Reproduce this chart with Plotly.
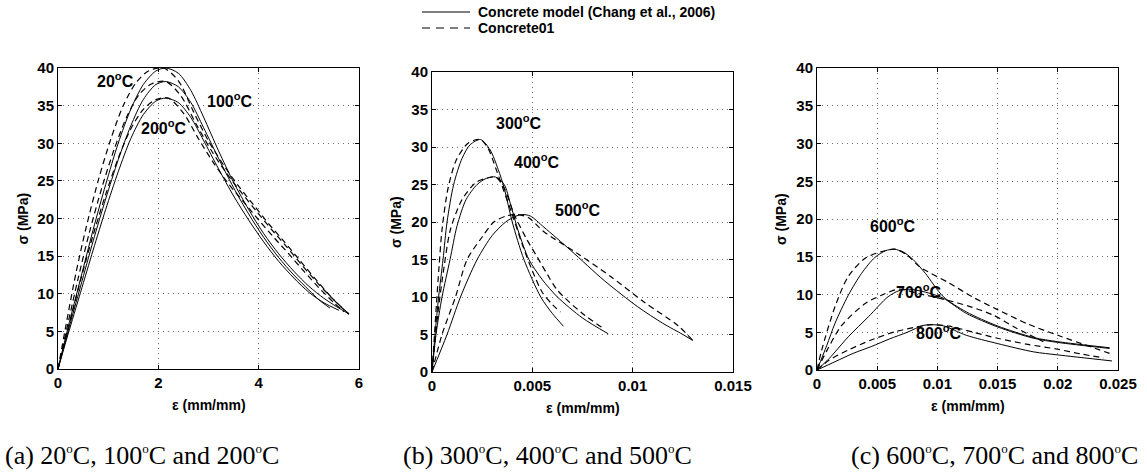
import plotly.graph_objects as go

W, H = 1147, 472

# ---------------- Panel (a): 20, 100, 200 C ----------------
a_s20_x = [0, 0.2, 0.45, 0.7, 0.95, 1.2, 1.45, 1.7, 1.95, 2.15, 2.4, 2.65, 2.9, 3.2, 3.5, 3.8, 4.1, 4.4, 4.7, 5.0, 5.3, 5.55, 5.8]
a_s20_y = [0, 5.5, 12, 18.5, 24.5, 30, 34.5, 37.8, 39.6, 40, 39.3, 37, 33.5, 29, 24.8, 21.2, 18, 15.3, 13, 11, 9.4, 8.3, 7.3]
a_s100_x = [0, 0.2, 0.45, 0.7, 0.95, 1.2, 1.45, 1.7, 1.95, 2.15, 2.4, 2.65, 2.9, 3.2, 3.5, 3.8, 4.1, 4.4, 4.7, 5.0, 5.2, 5.42]
a_s100_y = [0, 5, 11, 17, 22.6, 27.8, 32.3, 35.8, 37.8, 38.2, 37.5, 35.4, 32.1, 28, 24.1, 20.6, 17.5, 14.8, 12.5, 10.5, 9.2, 8.1]
a_s200_x = [0, 0.2, 0.45, 0.7, 0.95, 1.2, 1.45, 1.7, 1.95, 2.15, 2.4, 2.65, 2.9, 3.2, 3.5, 3.8, 4.1, 4.4, 4.7, 5.0, 5.3, 5.6]
a_s200_y = [0, 4.6, 10.2, 15.8, 21.2, 26.2, 30.6, 33.8, 35.6, 36, 35.4, 33.4, 30.4, 26.6, 23, 19.8, 16.9, 14.3, 12.1, 10.2, 8.8, 7.8]
a_d20_x = [0, 0.15, 0.35, 0.55, 0.8, 1.05, 1.3, 1.55, 1.8, 2.1, 2.4, 2.7, 3.0, 3.3, 3.6, 3.9, 4.2, 4.5, 4.8, 5.1, 5.4, 5.6, 5.8]
a_d20_y = [0, 5.5, 12.5, 18.5, 25, 30.5, 35, 38, 39.6, 40, 38.3, 34.2, 30.3, 27.1, 24.3, 21.8, 19.3, 17, 14.6, 12.2, 9.9, 8.5, 7.3]
a_d100_x = [0, 0.18, 0.4, 0.62, 0.87, 1.12, 1.37, 1.62, 1.87, 2.15, 2.45, 2.75, 3.05, 3.35, 3.65, 3.95, 4.25, 4.55, 4.85, 5.15, 5.45, 5.8]
a_d100_y = [0, 5.5, 12, 18, 24, 29.2, 33.5, 36.5, 37.9, 38.2, 36.3, 32.6, 29.1, 26.1, 23.5, 21, 18.6, 16.3, 13.9, 11.6, 9.5, 7.3]
a_d200_x = [0, 0.2, 0.45, 0.7, 0.95, 1.2, 1.45, 1.7, 1.95, 2.2, 2.5, 2.8, 3.1, 3.4, 3.7, 4.0, 4.3, 4.6, 4.9, 5.2, 5.5, 5.7]
a_d200_y = [0, 5.2, 11.8, 17.8, 23.2, 28, 31.9, 34.5, 35.8, 36, 34, 30.6, 27.4, 24.6, 22.2, 19.8, 17.5, 15.3, 13, 10.8, 8.8, 7.6]

# ---------------- Panel (b): 300, 400, 500 C ----------------
b_s300_x = [0, 0.00015, 0.00033, 0.00055, 0.00075, 0.00108, 0.0015, 0.0019, 0.00242, 0.0029, 0.0033, 0.0036, 0.004, 0.00458, 0.00542, 0.006, 0.00655]
b_s300_y = [0, 5, 10, 15, 20, 25, 28.5, 30.3, 31, 29.6, 27, 24.5, 20, 15, 10, 7.8, 6.1]
b_d300_x = [0, 0.0001, 0.00022, 0.00035, 0.0005, 0.0008, 0.0012, 0.00175, 0.0021, 0.00242, 0.0028, 0.0032, 0.0036, 0.004, 0.0045, 0.005, 0.0055, 0.006, 0.0064]
b_d300_y = [0, 4, 9, 14, 19, 24.5, 28.2, 30.4, 30.9, 31, 29.8, 27, 24, 21, 17, 13.5, 10.6, 9, 8]
b_s400_x = [0, 0.0002, 0.0005, 0.0009, 0.00125, 0.0017, 0.00225, 0.0027, 0.00317, 0.0036, 0.0039, 0.0043, 0.00483, 0.0055, 0.00625, 0.0075, 0.00878]
b_s400_y = [0, 5, 10, 15, 19.5, 23, 25, 25.8, 26, 25, 22.5, 18.8, 15, 12.3, 10, 7.2, 5.1]
b_d400_x = [0, 0.00015, 0.0003, 0.0006, 0.00092, 0.0015, 0.0022, 0.0028, 0.00317, 0.0036, 0.0041, 0.0047, 0.00525, 0.00575, 0.00625, 0.0075, 0.0085]
b_d400_y = [0, 4, 8, 14, 19, 23, 25.3, 25.9, 26, 24.5, 21, 17.8, 15.3, 13, 10.9, 7.8, 5.9]
b_s500_x = [0, 0.00075, 0.00142, 0.00225, 0.003, 0.00367, 0.0042, 0.0045, 0.0049, 0.00558, 0.00692, 0.00858, 0.01025, 0.0115, 0.0125, 0.013]
b_s500_y = [0, 5, 10, 15, 18.2, 20, 20.8, 21, 20.8, 19.3, 16.2, 12.2, 8.7, 6.5, 5.0, 4.2]
b_d500_x = [0, 0.0005, 0.00117, 0.00175, 0.0025, 0.00308, 0.0037, 0.00425, 0.0048, 0.00558, 0.00725, 0.00892, 0.01058, 0.01225, 0.013]
b_d500_y = [0, 5, 10, 15, 18, 20, 20.8, 21, 20.6, 18.7, 15.8, 12.7, 9.3, 6.2, 4.2]

# ---------------- Panel (c): 600, 700, 800 C ----------------
c_s600_x = [0, 0.0008, 0.0015, 0.0026, 0.0037, 0.0048, 0.0057, 0.0064, 0.0072, 0.008, 0.009, 0.0105, 0.0124, 0.015, 0.018, 0.02, 0.0243]
c_s600_y = [0, 3.2, 6.2, 9.9, 12.8, 14.9, 15.8, 16, 15.6, 14.6, 12.8, 9.7, 7.7, 5.83, 4.3, 3.75, 2.95]
c_s700_x = [0, 0.001, 0.0026, 0.0043, 0.0059, 0.0068, 0.0076, 0.0085, 0.0095, 0.0105, 0.0124, 0.015, 0.018, 0.02, 0.0243]
c_s700_y = [0, 1.5, 4.4, 7.1, 9.7, 10.5, 10.7, 10.5, 10.1, 9.5, 7.5, 5.7, 4.2, 3.65, 2.85]
c_s800_x = [0, 0.0015, 0.003, 0.0045, 0.006, 0.0075, 0.0088, 0.0095, 0.0105, 0.0124, 0.015, 0.018, 0.02, 0.0245]
c_s800_y = [0, 1.1, 2.2, 3.1, 4.1, 5.0, 5.9, 6.0, 5.85, 4.6, 3.5, 2.4, 2.0, 1.2]
c_d600_x = [0, 0.0004, 0.0015, 0.0026, 0.004, 0.0054, 0.0065, 0.0075, 0.0085, 0.011, 0.013, 0.015, 0.0175, 0.02, 0.0243]
c_d600_y = [0, 2.7, 8.4, 12.4, 14.8, 15.7, 16, 15.2, 13.7, 11.5, 9.6, 8.0, 6.1, 4.6, 2.2]
c_d700_x = [0, 0.0008, 0.002, 0.004, 0.0055, 0.0068, 0.0085, 0.0107, 0.0127, 0.0146, 0.0165, 0.0188]
c_d700_y = [0, 2.5, 5.8, 8.8, 10.0, 10.7, 10.1, 9.3, 8.4, 7.3, 5.6, 3.75]
c_d800_x = [0, 0.001, 0.0026, 0.0045, 0.0065, 0.0081, 0.0095, 0.011, 0.013, 0.015, 0.0175, 0.02, 0.022, 0.0238]
c_d800_y = [0, 1.3, 2.65, 3.97, 5.07, 5.65, 6.0, 5.8, 5.0, 4.2, 3.4, 2.75, 2.1, 1.6]

# labels
temp_labels_a = ["20", "100", "200"]
temp_pos_a = [(1.14, 38.4), (3.42, 35.7), (2.12, 32.2)]
temp_labels_b = ["300", "400", "500"]
temp_pos_b = [(0.00434, 33.4), (0.00523, 28.2), (0.0073, 21.8)]
temp_labels_c = ["600", "700", "800"]
temp_pos_c = [(0.00635, 19.2), (0.00851, 10.4), (0.01017, 5.1)]

SUPO = "<sup><span style='font-size:13px'>o</span></sup>"
caption_temps = [["20", "100", "200"], ["300", "400", "500"], ["600", "700", "800"]]
caption_tags = ["(a)", "(b)", "(c)"]
legend_names = ["Concrete model (Chang et al., 2006)", "Concrete01"]

x_ranges = [[0, 6], [0, 0.015], [0, 0.025]]
x_tickvals = [[0, 2, 4, 6], [0, 0.005, 0.01, 0.015], [0, 0.005, 0.01, 0.015, 0.02, 0.025]]
x_ticktext = [["0", "2", "4", "6"], ["0", "0.005", "0.01", "0.015"],
              ["0", "0.005", "0.01", "0.015", "0.02", "0.025"]]
y_tickvals = [0, 5, 10, 15, 20, 25, 30, 35, 40]
y_ticktext = ["0", "5", "10", "15", "20", "25", "30", "35", "40"]

# ---------------- layout geometry (pixels) ----------------
boxes = [(58, 359, 68, 369), (432, 733, 72, 372), (817, 1118, 68, 370)]

fig = go.Figure()

SOLID = dict(color="black", width=1.0, shape="spline", smoothing=0.8)
DASH = dict(color="black", width=1.2, dash="6px,4px", shape="spline", smoothing=0.8)

panels = [
    ("x", "y", [(a_s20_x, a_s20_y), (a_s100_x, a_s100_y), (a_s200_x, a_s200_y)],
     [(a_d20_x, a_d20_y), (a_d100_x, a_d100_y), (a_d200_x, a_d200_y)]),
    ("x2", "y2", [(b_s300_x, b_s300_y), (b_s400_x, b_s400_y), (b_s500_x, b_s500_y)],
     [(b_d300_x, b_d300_y), (b_d400_x, b_d400_y), (b_d500_x, b_d500_y)]),
    ("x3", "y3", [(c_s600_x, c_s600_y), (c_s700_x, c_s700_y), (c_s800_x, c_s800_y)],
     [(c_d600_x, c_d600_y), (c_d700_x, c_d700_y), (c_d800_x, c_d800_y)]),
]

for xa, ya, sol, das in panels:
    for xs, ys in sol:
        fig.add_trace(go.Scatter(x=xs, y=ys, mode="lines", line=SOLID, xaxis=xa, yaxis=ya,
                                 name=legend_names[0], showlegend=False, hoverinfo="skip"))
    for xs, ys in das:
        fig.add_trace(go.Scatter(x=xs, y=ys, mode="lines", line=DASH, xaxis=xa, yaxis=ya,
                                 name=legend_names[1], showlegend=False, hoverinfo="skip"))

FONT = "Liberation Sans, Arial, sans-serif"
tickfont = dict(family=FONT, size=15, color="black", weight="bold")
common = dict(showgrid=True, gridcolor="#6f6f6f", griddash="1px,4px", gridwidth=1,
              showline=True, linecolor="black", linewidth=1, mirror="ticks",
              ticks="inside", ticklen=4, tickcolor="black", zeroline=False,
              tickfont=tickfont, fixedrange=True, automargin=False)

layout = {}
annotations = []
shapes = []
for k, (l, r, t, b) in enumerate(boxes):
    sx = "" if k == 0 else str(k + 1)
    layout["xaxis" + sx] = dict(common, domain=[l / W, r / W], range=x_ranges[k],
                                tickvals=x_tickvals[k],
                                ticktext=["<b>" + s + "</b>" for s in x_ticktext[k]],
                                anchor="y" + sx)
    layout["yaxis" + sx] = dict(common, domain=[(H - b) / H, (H - t) / H], range=[0, 40],
                                tickvals=y_tickvals,
                                ticktext=["<b>" + s + "</b>" for s in y_ticktext],
                                anchor="x" + sx)
    annotations.append(dict(text="<b>ε (mm/mm)</b>", xref="paper", yref="paper",
                            x=(l + r) / 2 / W, y=(H - (b + 36)) / H, showarrow=False,
                            font=dict(family=FONT, size=14, color="black"),
                            xanchor="center", yanchor="middle"))
    annotations.append(dict(text="<b>σ (MPa)</b>", xref="paper", yref="paper", textangle=-90,
                            x=(l - 36) / W, y=(H - (t + b) / 2) / H, showarrow=False,
                            font=dict(family=FONT, size=14, color="black"),
                            xanchor="center", yanchor="middle"))

temp_sets = [(temp_labels_a, temp_pos_a), (temp_labels_b, temp_pos_b), (temp_labels_c, temp_pos_c)]
for k, (labs, poss) in enumerate(temp_sets):
    sx = "" if k == 0 else str(k + 1)
    for lab, (px, py) in zip(labs, poss):
        annotations.append(dict(text="<b>" + lab + "<sup>o</sup>C</b>", x=px, y=py,
                                xref="x" + sx, yref="y" + sx,
                                showarrow=False, xanchor="center", yanchor="middle",
                                font=dict(family=FONT, size=16, color="black")))

cap_x = [142, 547, 994]
for cx, tag, temps in zip(cap_x, caption_tags, caption_temps):
    cap = (tag + " " + temps[0] + SUPO + "C, " + temps[1] + SUPO + "C and "
           + temps[2] + SUPO + "C")
    annotations.append(dict(text=cap, xref="paper", yref="paper", x=cx / W, y=(H - 455) / H,
                            showarrow=False, xanchor="center", yanchor="middle",
                            font=dict(family="Liberation Serif, Times New Roman, serif", size=26,
                                      color="black")))

# legend (key lines + text at the top centre)
legend_rows_y = [12, 28]
legend_dash = [None, "8px,6px"]
for name, ry, dsh in zip(legend_names, legend_rows_y, legend_dash):
    ln = dict(color="black", width=1)
    if dsh:
        ln["dash"] = dsh
    shapes.append(dict(type="line", xref="paper", yref="paper",
                       x0=422 / W, x1=470 / W, y0=(H - ry) / H, y1=(H - ry) / H, line=ln))
    annotations.append(dict(text="<b>" + name + "</b>", xref="paper", yref="paper",
                            x=476 / W, y=(H - ry) / H, xanchor="left", yanchor="middle",
                            showarrow=False, font=dict(family=FONT, size=14, color="black")))

fig.update_layout(
    width=W, height=H, margin=dict(l=0, r=0, t=0, b=0, pad=0),
    paper_bgcolor="white", plot_bgcolor="white",
    annotations=annotations, shapes=shapes,
    showlegend=False,
    **layout,
)

fig.write_html(
    "out.html",
    config={"displayModeBar": False},
    post_script="document.documentElement.style.margin='0';document.body.style.margin='0';"
                "document.body.style.padding='0';document.documentElement.style.overflow='hidden';",
)
